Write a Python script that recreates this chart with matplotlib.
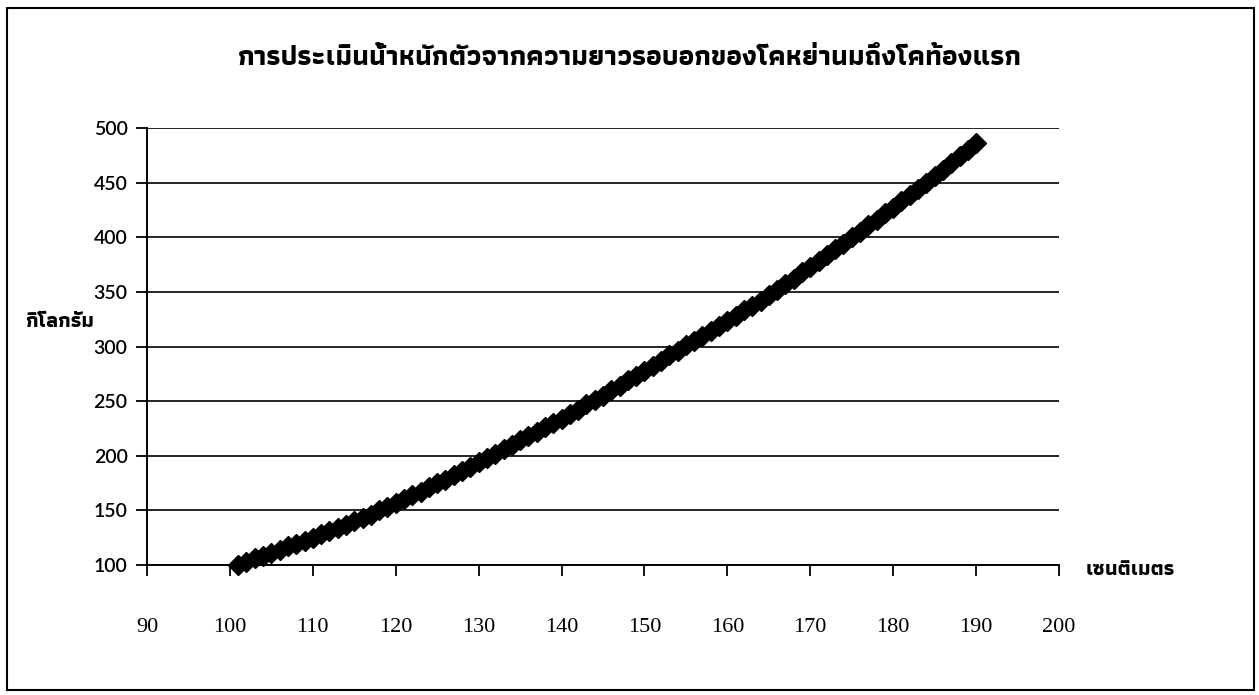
import matplotlib
matplotlib.use("Agg")
import matplotlib.pyplot as plt
from matplotlib.patches import Rectangle

# heart girth (cm) and estimated body weight (kg), one row per cm
girth_cm = list(range(101, 191))
weight_kg = [
    100, 103, 106, 108, 111, 114, 117, 119, 122, 125,   # 101-110
    128, 131, 134, 137, 140, 143, 146, 150, 153, 157,   # 111-120
    160, 164, 167, 171, 175, 178, 182, 186, 190, 194,   # 121-130
    198, 202, 206, 210, 214, 218, 222, 226, 230, 234,   # 131-140
    238, 242, 247, 251, 255, 260, 264, 269, 273, 278,   # 141-150
    282, 287, 292, 296, 301, 305, 310, 314, 319, 323,   # 151-160
    328, 333, 337, 342, 347, 352, 357, 362, 368, 373,   # 161-170
    378, 384, 389, 394, 400, 405, 411, 416, 422, 427,   # 171-180
    433, 439, 444, 450, 456, 462, 468, 474, 480, 486,   # 181-190
]

x_ticks = list(range(90, 201, 10))
y_ticks = list(range(100, 501, 50))

title = "การประเมินน้ำหนักตัวจากความยาวรอบอกของโคหย่านมถึงโคท้องแรก"
y_label = "กิโลกรัม"
x_label = "เซนติเมตร"

thai = ["Athiti", "Noto Sans Thai", "DejaVu Sans"]

W, H = 1259, 695
fig = plt.figure(figsize=(W / 100, H / 100), dpi=100)
fig.patch.set_facecolor("white")

# outer frame around the whole chart
fig.patches.append(Rectangle((7 / W, 5 / H), 1247 / W, 682 / H,
                             transform=fig.transFigure, fill=False,
                             edgecolor="black", linewidth=1.5))

ax = fig.add_axes([147 / W, 1 - 565 / H, (1059 - 147) / W, (565 - 128) / H])
ax.plot(girth_cm, weight_kg, color="black", lw=3, marker="D",
        markersize=10, markeredgecolor="black", markerfacecolor="black",
        zorder=3, clip_on=False)

ax.set_xlim(90, 200)
ax.set_ylim(100, 500)
ax.set_xticks(x_ticks)
ax.set_yticks(y_ticks)
ax.set_xticklabels([str(v) for v in x_ticks], family="Liberation Serif",
                   fontsize=16)
ax.set_yticklabels([str(v) for v in y_ticks], family="Lato", fontsize=14,
                   weight="semibold")
ax.tick_params(axis="x", direction="out", length=8, width=1.3, pad=30)
ax.tick_params(axis="y", direction="out", length=8, width=1.3, pad=6)

ax.yaxis.grid(True, color="black", linewidth=1.2)
ax.set_axisbelow(True)
for side in ("top", "right"):
    ax.spines[side].set_visible(False)
for side in ("left", "bottom"):
    ax.spines[side].set_linewidth(1.4)

fig.text(630 / W, 1 - 58 / H, title, ha="center", va="center",
         fontsize=20, weight="bold", family=thai)
fig.text(60 / W, 1 - 322 / H, y_label, ha="center", va="center",
         fontsize=15, weight="bold", family=thai)
fig.text(1130 / W, 1 - 570 / H, x_label, ha="center", va="center",
         fontsize=15, weight="bold", family=thai)

fig.savefig("out.png", dpi=100, facecolor="white")
